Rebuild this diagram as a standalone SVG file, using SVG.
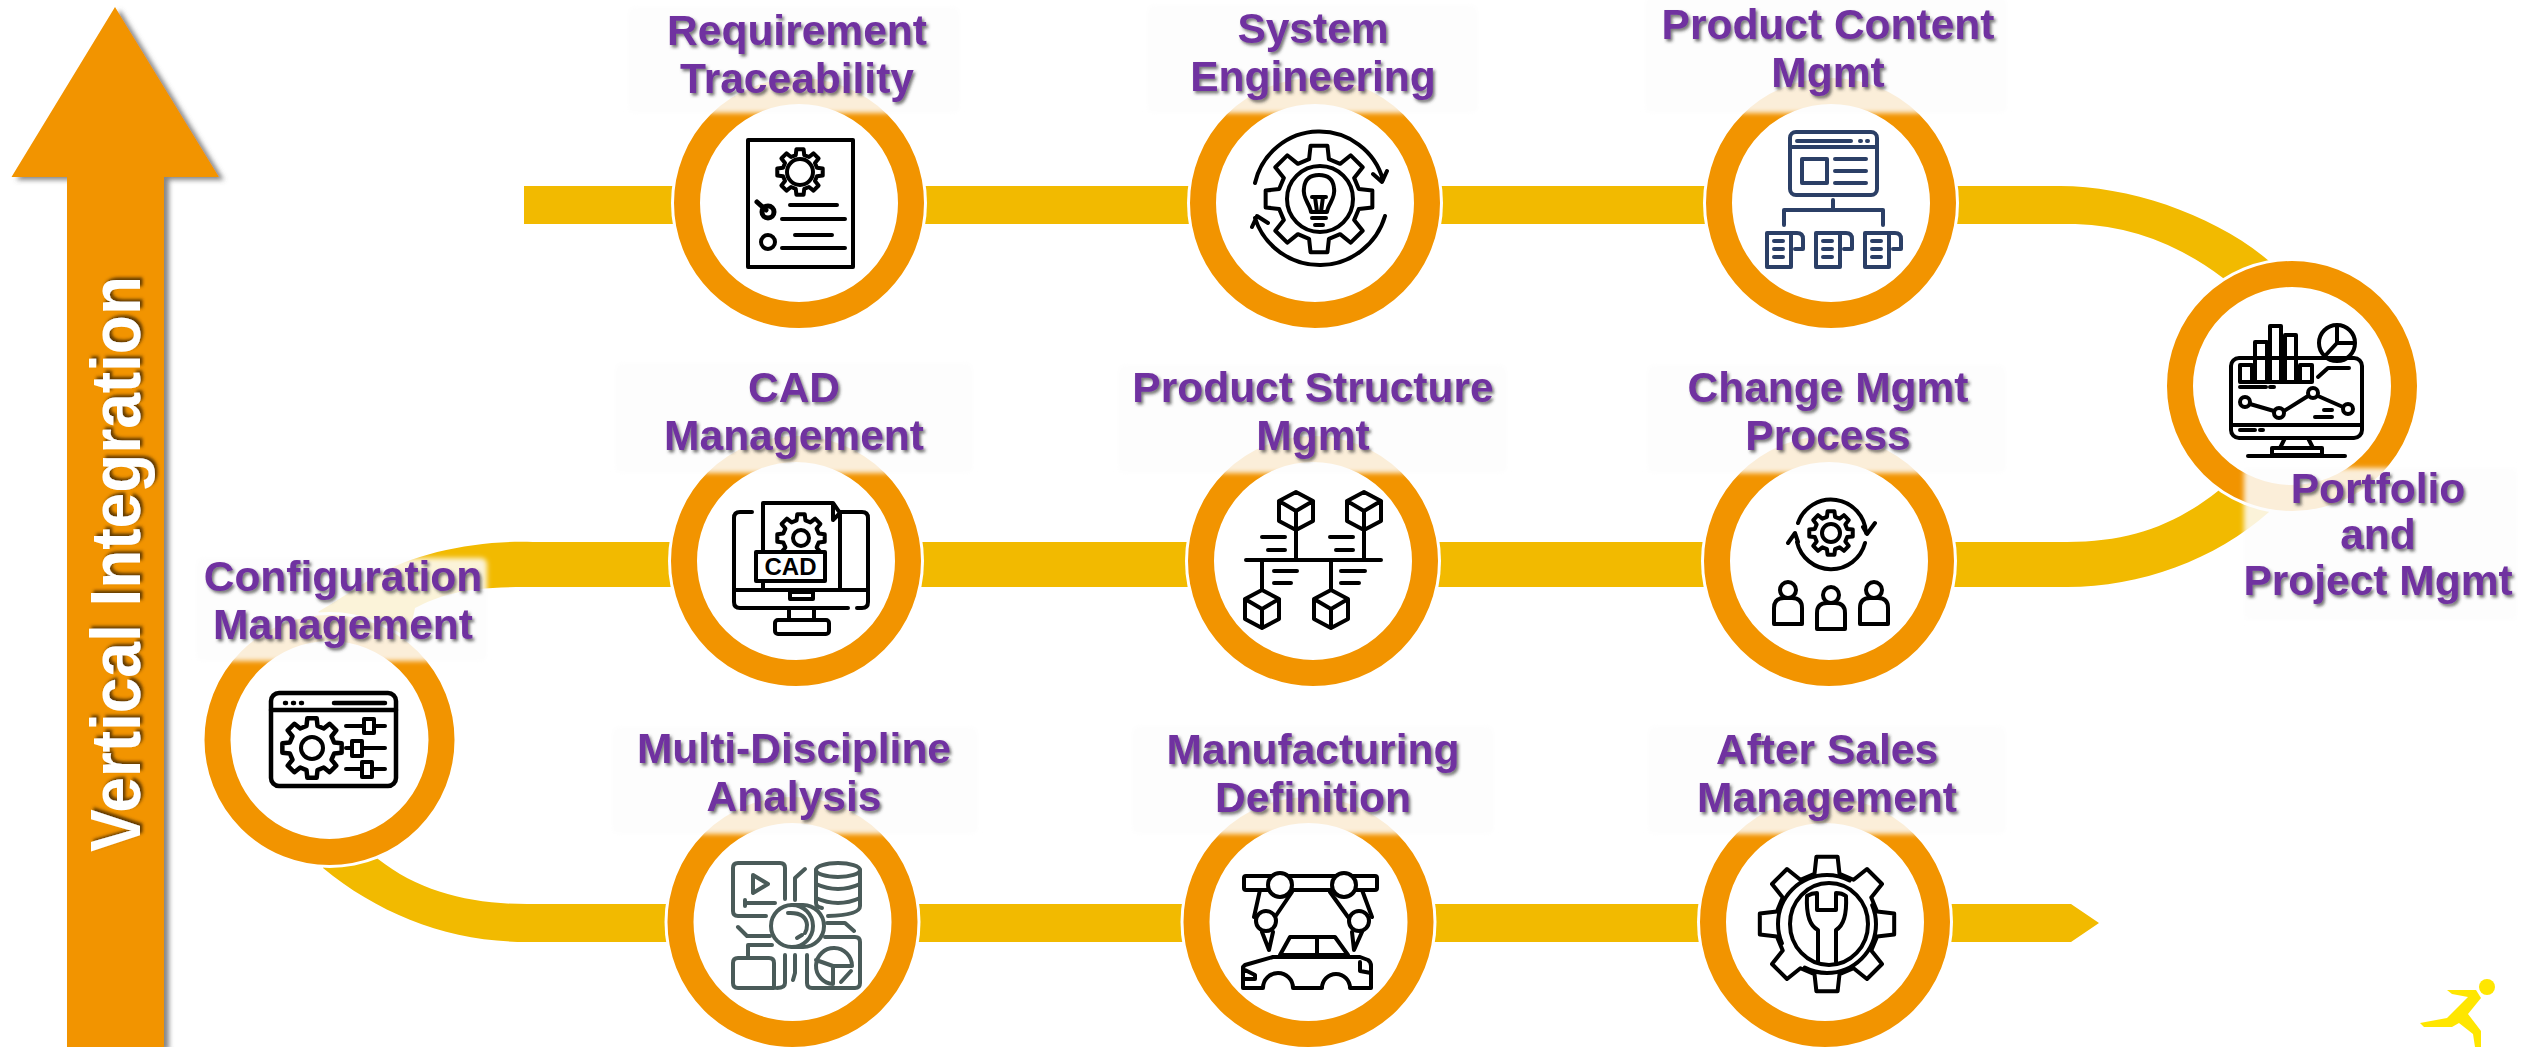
<svg xmlns="http://www.w3.org/2000/svg" xmlns:xlink="http://www.w3.org/1999/xlink" width="2522" height="1047" viewBox="0 0 2522 1047">
<style>
text{font-family:"Liberation Sans",Arial,sans-serif}
.lbl{font-size:42.5px;font-weight:700;fill:#7030A0;text-anchor:middle;filter:url(#ts)}
.box{fill:#FDFDFD;fill-opacity:.86;filter:url(#soft)}
.ring{fill:#fff;stroke:#F29400;stroke-width:26}
.halo{fill:#fff}
.band{fill:#F2BA00}
.i{fill:none;stroke:#000;stroke-width:4;stroke-linecap:round;stroke-linejoin:round}
.n{stroke:#2B3F66}
.s{stroke:#4A5B59}
.gp{fill:none;stroke-linejoin:round;vector-effect:non-scaling-stroke}
</style>
<defs>
<filter id="ts" x="-10%" y="-20%" width="120%" height="150%"><feDropShadow dx="2" dy="2.5" stdDeviation="1.5" flood-color="#333" flood-opacity=".65"/></filter>
<filter id="as" x="-10%" y="-5%" width="125%" height="110%"><feDropShadow dx="5" dy="3" stdDeviation="2.5" flood-color="#555" flood-opacity=".7"/></filter>
<filter id="vs" x="-20%" y="-5%" width="140%" height="110%"><feDropShadow dx="2.5" dy="-2.5" stdDeviation="1.5" flood-color="#4a2a00" flood-opacity=".85"/></filter>
<filter id="soft" x="-5%" y="-10%" width="110%" height="120%"><feGaussianBlur stdDeviation="2.5"/></filter>
<path id="gear" class="gp" d="M-18.4,-73.7L-15.6,-98.8L15.6,-98.8L18.4,-73.7L39.1,-65.1L58.8,-80.9L80.9,-58.8L65.1,-39.1L73.7,-18.4L98.8,-15.6L98.8,15.6L73.7,18.4L65.1,39.1L80.9,58.8L58.8,80.9L39.1,65.1L18.4,73.7L15.6,98.8L-15.6,98.8L-18.4,73.7L-39.1,65.1L-58.8,80.9L-80.9,58.8L-65.1,39.1L-73.7,18.4L-98.8,15.6L-98.8,-15.6L-73.7,-18.4L-65.1,-39.1L-80.9,-58.8L-58.8,-80.9L-39.1,-65.1Z"/>
<g id="cube"><path d="M0,-19L17,-10V10L0,19L-17,10V-10ZM-17,-10L0,0L17,-10M0,0V19"/></g>
<g id="doc"><path d="M2,36V2H26V36ZM26,2H32Q38,2 38,8V18H30M9,10H18M9,18H18M9,26H18"/></g>
<g id="person"><circle cx="0" cy="-12" r="8"/><path d="M-14,22V6Q-14,-4 -4,-4H4Q14,-4 14,6V22Z"/></g>
</defs>

<g id="connectors">
<path class="band" d="M524,186H2060C2130,186 2215,215 2269,261L2292,386L2223,278C2175,242 2125,224 2067,224H524Z"/>
<path class="band" d="M533,542H2067C2130,542 2175,525 2218,491L2292,386L2269,512C2215,560 2140,587 2067,587H524C465,587 440,595 415,608L400,680L318,612C330,605 350,592 374,577C415,552 480,540 533,542Z"/>
<path class="band" d="M2071,904L2099,923L2071,942H527C450,942 380,915 323,868L329,740L378,859C420,892 470,904 527,904Z"/>
</g>

<g id="axis-arrow">
<path filter="url(#as)" fill="#F29400" d="M115,7L219,177H164V1047H67V177H11.5Z"/>
<g filter="url(#vs)"><text transform="translate(140,852) rotate(-90)" font-size="70" font-weight="700" fill="#fff" textLength="576" lengthAdjust="spacingAndGlyphs">Vertical Integration</text></g>
</g>

<g id="node-requirement">
<circle class="halo" cx="799" cy="203" r="128"/><circle class="ring" cx="799" cy="203" r="112"/>
<g class="i"><rect x="748" y="140" width="105" height="127"/>
<use href="#gear" transform="translate(800,172) scale(.23)" stroke="#000" stroke-width="4"/><circle cx="800" cy="172" r="13"/>
<circle cx="768" cy="212" r="6" stroke-width="5"/><path d="M757,202L766,210" stroke-width="5"/>
<path d="M790,205H837M782,219H845M795,235H832M782,248H845"/><circle cx="768" cy="242" r="7"/></g>
<rect class="box" x="628" y="7" width="332" height="106" rx="6"/>
<text class="lbl" x="797" y="45">Requirement</text><text class="lbl" x="797" y="93">Traceability</text>
</g>

<g id="node-system">
<circle class="halo" cx="1315" cy="203" r="128"/><circle class="ring" cx="1315" cy="203" r="112"/>
<g class="i"><use href="#gear" transform="translate(1319,199) scale(.54)" stroke="#000" stroke-width="4"/><circle cx="1320" cy="199" r="33"/>
<path d="M1311,212C1310,204 1302,198 1304,188C1305,178 1312,175 1319,175C1326,175 1333,178 1334,188C1336,198 1328,204 1327,212ZM1312,197H1326M1315,197L1317,212M1323,197L1321,212M1312,218H1326M1315,225H1323"/>
<path d="M1255,183A66,66 0 0 1 1383,180M1373,174L1382,182L1387,171M1385,216A68,68 0 0 1 1255,218M1252,227L1257,216L1268,223"/></g>
<rect class="box" x="1147" y="5" width="331" height="108" rx="6"/>
<text class="lbl" x="1313" y="43">System</text><text class="lbl" x="1313" y="91">Engineering</text>
</g>

<g id="node-content">
<circle class="halo" cx="1831" cy="203" r="128"/><circle class="ring" cx="1831" cy="203" r="112"/>
<g class="i n"><rect x="1790" y="132" width="87" height="63" rx="6"/><path d="M1790,147H1877M1797,141H1851M1860,141H1861M1867,141H1868"/>
<rect x="1802" y="159" width="25" height="24"/><path d="M1835,159H1866M1835,171H1866M1835,183H1866M1833,200V210M1784,225V210H1883V225"/>
<use href="#doc" transform="translate(1765,231)"/><use href="#doc" transform="translate(1814,231)"/><use href="#doc" transform="translate(1863,231)"/></g>
<rect class="box" x="1645" y="-4" width="362" height="117" rx="6"/>
<text class="lbl" x="1828" y="39">Product Content</text><text class="lbl" x="1828" y="87">Mgmt</text>
</g>

<g id="node-portfolio">
<circle class="halo" cx="2292" cy="386" r="128"/><circle class="ring" cx="2292" cy="386" r="112"/>
<g class="i"><rect x="2231" y="358" width="131" height="80" rx="8"/><path d="M2231,425H2362M2240,430H2255M2260,430H2263M2285,438L2280,448M2308,438L2313,448"/>
<rect x="2272" y="448" width="50" height="7"/><path d="M2248,456H2345"/>
<path d="M2240,382V365H2252V382M2255,382V342H2267V382M2270,382V326H2281V382M2285,382V335H2296V382M2300,382V365H2312V382M2240,382H2312M2240,387H2266M2270,387H2274"/>
<circle cx="2337" cy="343" r="18"/><path d="M2337,326V343H2354M2337,343L2324,357M2318,377L2328,368H2349"/>
<path d="M2250,404L2274,411M2284,411L2308,396M2318,396L2343,407"/>
<circle cx="2245" cy="402" r="5"/><circle cx="2279" cy="413" r="5"/><circle cx="2313" cy="393" r="5"/><circle cx="2348" cy="409" r="5"/>
<path d="M2324,410H2332M2315,417H2332"/></g>
<rect class="box" x="2244" y="468" width="273" height="152" rx="4"/>
<text class="lbl" x="2378" y="503">Portfolio</text><text class="lbl" x="2378" y="549">and</text><text class="lbl" x="2378" y="595">Project Mgmt</text>
</g>

<g id="node-cad">
<circle class="halo" cx="796" cy="561" r="128"/><circle class="ring" cx="796" cy="561" r="112"/>
<g class="i"><path d="M763,590V503H833L840,513V590M840,512H862Q868,512 868,518V590M752,512H740Q734,512 734,518V602Q734,608 740,608H848M857,608H862Q868,608 868,602V590H734M833,503V520L840,513"/>
<use href="#gear" transform="translate(801,538) scale(.24)" stroke="#000" stroke-width="4"/><circle cx="801" cy="538" r="8"/>
<rect x="756" y="552" width="69" height="29" fill="#fff"/><path d="M790,592H813V599H790ZM789,608V620M814,608V620"/><rect x="775" y="620" width="54" height="14" rx="3"/></g>
<text x="790.5" y="575" font-size="24" font-weight="700" text-anchor="middle" fill="#000">CAD</text>
<rect class="box" x="615" y="363" width="358" height="110" rx="6"/>
<text class="lbl" x="794" y="402">CAD</text><text class="lbl" x="794" y="450">Management</text>
</g>

<g id="node-structure">
<circle class="halo" cx="1313" cy="561" r="128"/><circle class="ring" cx="1313" cy="561" r="112"/>
<g class="i"><use href="#cube" x="1296" y="511"/><use href="#cube" x="1364" y="511"/><use href="#cube" x="1262" y="609"/><use href="#cube" x="1331" y="609"/>
<path d="M1246,560H1381M1296,530V560M1364,530V560M1262,560V590M1331,560V590M1262,537H1285M1268,550H1285M1330,537H1353M1336,550H1353M1274,571H1297M1274,583H1291M1341,571H1365M1341,583H1359"/></g>
<rect class="box" x="1118" y="365" width="389" height="108" rx="6"/>
<text class="lbl" x="1313" y="402">Product Structure</text><text class="lbl" x="1313" y="450">Mgmt</text>
</g>

<g id="node-change">
<circle class="halo" cx="1829" cy="561" r="128"/><circle class="ring" cx="1829" cy="561" r="112"/>
<g class="i"><use href="#gear" transform="translate(1831,533) scale(.22)" stroke="#000" stroke-width="4"/><circle cx="1831" cy="533" r="9"/>
<path d="M1798,523A35,35 0 0 1 1866,533M1863,527L1867,534L1875,523M1865,543A35,35 0 0 1 1797,542M1788,543L1795,533L1798,542"/>
<use href="#person" x="1788" y="602"/><use href="#person" x="1831" y="607"/><use href="#person" x="1874" y="602"/></g>
<rect class="box" x="1647" y="365" width="359" height="108" rx="6"/>
<text class="lbl" x="1828" y="402">Change Mgmt</text><text class="lbl" x="1828" y="450">Process</text>
</g>

<g id="node-config">
<circle class="halo" cx="329.5" cy="740" r="128"/><circle class="ring" cx="329.5" cy="740" r="112"/>
<g class="i"><rect x="271" y="693" width="125" height="93" rx="8" stroke-width="4.5"/><path d="M271,710H396M285,703H286M293,703H294M301,703H302M334,703H385" stroke-width="4.5"/>
<use href="#gear" transform="translate(312,748) scale(.3)" stroke="#000" stroke-width="4.5"/><circle cx="312" cy="748" r="11"/>
<path d="M346,726H385M346,748H385M346,769H385"/><rect x="364" y="719" width="10" height="14" fill="#fff"/><rect x="352" y="741" width="10" height="15" fill="#fff"/><rect x="362" y="762" width="10" height="15" fill="#fff"/></g>
<rect class="box" x="196" y="558" width="291" height="103" rx="6"/>
<text class="lbl" x="343" y="591">Configuration</text><text class="lbl" x="343" y="639">Management</text>
</g>

<g id="node-multi">
<circle class="halo" cx="792.5" cy="922" r="128"/><circle class="ring" cx="792.5" cy="922" r="112"/>
<g class="i s"><path d="M785,899V868Q785,863 780,863H738Q733,863 733,868V911Q733,916 738,916H766M753,875L768,884L753,893ZM745,903H775M745,900V906"/>
<path d="M795,900V878L805,869"/>
<ellipse cx="838" cy="870" rx="22" ry="7"/><path d="M816,870V903Q816,907 822,908M860,870V906Q860,915 828,916M816,884Q838,894 860,884M816,898Q838,908 860,898"/>
<circle cx="792" cy="926" r="21"/><path d="M792,905H803A21,21 0 0 1 803,947H792M788,913Q806,912 807,925Q807,930 805,933M797,938L802,935"/>
<path d="M738,927L747,936H770M827,923H845L854,931"/>
<path d="M748,957V945H772M738,958H769Q774,958 774,963V988H738Q733,988 733,983V963Q733,958 738,958M785,955V983Q785,988 777,988M795,955V973L793,980"/>
<path d="M807,955V983Q807,988 812,988H855Q860,988 860,983V942Q860,937 855,937H825"/>
<path d="M852,966A18,18 0 1 0 833,984V966ZM833,966L816,960M841,982L851,971"/></g>
<rect class="box" x="612" y="727" width="366" height="107" rx="6"/>
<text class="lbl" x="794" y="763">Multi-Discipline</text><text class="lbl" x="794" y="811">Analysis</text>
</g>

<g id="node-mfg">
<circle class="halo" cx="1308.5" cy="922" r="128"/><circle class="ring" cx="1308.5" cy="922" r="112"/>
<g class="i" stroke-width="4.5"><rect x="1244" y="876" width="133" height="14" rx="2"/>
<path d="M1260,890L1254,917M1292,892L1275,917M1330,892L1348,917M1362,890L1372,917"/>
<circle cx="1280" cy="885" r="12" fill="#fff"/><circle cx="1344" cy="885" r="12" fill="#fff"/>
<circle cx="1266" cy="921" r="10" fill="#fff"/><circle cx="1359" cy="921" r="10" fill="#fff"/>
<path d="M1262,932L1269,950L1273,932M1352,932L1354,950L1362,932"/>
<path d="M1280,955L1290,937H1335L1348,955ZM1317,938V955M1245,965L1273,957H1360L1368,960Q1371,962 1371,966V988H1350A14,14 0 0 0 1322,988H1293A15,15 0 0 0 1263,988H1243V967ZM1245,970L1255,975V979H1243M1360,962V971L1371,973"/></g>
<rect class="box" x="1132" y="726" width="362" height="108" rx="6"/>
<text class="lbl" x="1313" y="764">Manufacturing</text><text class="lbl" x="1313" y="812">Definition</text>
</g>

<g id="node-after">
<circle class="halo" cx="1825" cy="922" r="128"/><circle class="ring" cx="1825" cy="922" r="112"/>
<g class="i"><use href="#gear" transform="translate(1827,924) scale(.68)" stroke="#000" stroke-width="4"/><ellipse cx="1829" cy="924" rx="39" ry="41"/>
<circle cx="1827" cy="924" r="49" stroke-dasharray="120 34" stroke-dashoffset="20"/>
<path d="M1818,962V930C1810,926 1806,916 1807,896Q1812,893 1817,893V910H1836V893Q1842,893 1846,896C1847,916 1843,926 1836,930V962"/></g>
<rect class="box" x="1648" y="726" width="358" height="108" rx="6"/>
<text class="lbl" x="1827" y="764">After Sales</text><text class="lbl" x="1827" y="812">Management</text>
</g>

<g id="logo">
<circle cx="2487" cy="987" r="8" fill="#FFE600"/>
<path fill="#FFE600" d="M2447,990H2476L2481,998L2468,1014L2481,1031V1047H2475L2473,1034L2459,1023L2452,1027H2424L2420,1023L2447,1018L2468,997L2452,994Z"/>
</g>
</svg>
